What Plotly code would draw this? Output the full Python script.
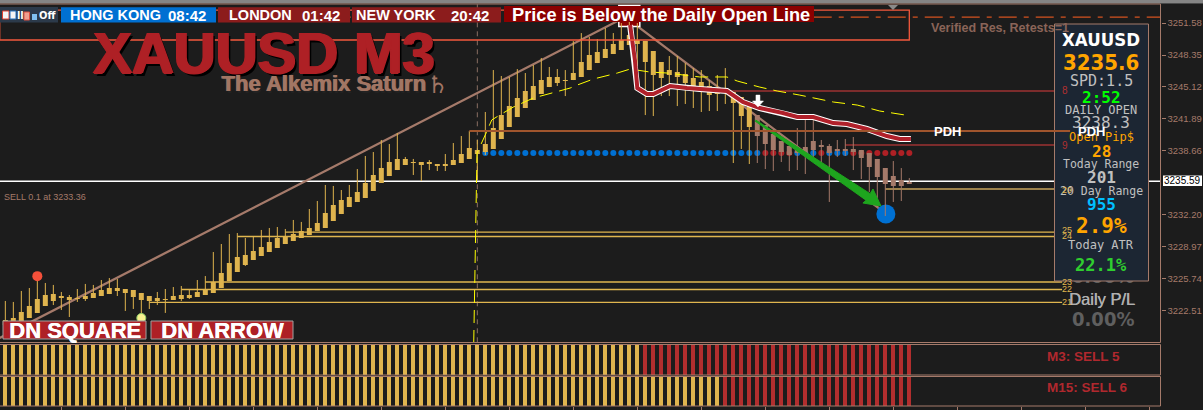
import plotly.graph_objects as go

# ---- data ----
bar_index = list(range(114))
highs = [3223.48,3223.38,3224.49,3224.79,3225.90,3225.30,3225.10,3224.39,3224.08,3224.69,3225.20,3225.10,3225.60,3225.80,3225.70,3224.69,3224.59,3224.29,3223.98,3224.39,3224.69,3224.89,3224.99,3224.69,3225.60,3226.00,3228.43,3229.24,3230.25,3230.35,3229.85,3229.95,3230.66,3230.86,3230.96,3230.76,3231.67,3231.47,3232.78,3233.59,3235.21,3235.11,3234.70,3235.21,3236.82,3238.14,3238.54,3239.76,3239.35,3240.46,3238.04,3237.84,3237.53,3237.73,3237.33,3238.34,3239.45,3240.16,3240.67,3239.76,3242.59,3246.83,3246.23,3246.13,3246.93,3246.53,3247.34,3248.05,3247.14,3246.93,3246.83,3249.76,3250.57,3250.17,3249.97,3251.08,3250.57,3251.58,3251.89,3251.58,3249.76,3248.75,3247.64,3248.25,3248.25,3247.54,3247.03,3246.83,3245.82,3246.33,3247.03,3244.61,3244.10,3243.19,3242.28,3241.27,3240.36,3239.65,3239.15,3240.97,3242.18,3242.38,3239.76,3239.35,3239.76,3239.86,3240.06,3238.75,3238.44,3237.84,3236.92,3237.63,3236.92,3235.91]
body_tops = [3221.56,3221.76,3222.37,3222.97,3223.68,3224.08,3224.18,3223.98,3223.88,3223.78,3223.98,3224.29,3224.59,3224.79,3224.79,3224.69,3224.59,3224.29,3223.98,3223.78,3223.68,3223.98,3224.08,3224.08,3224.39,3224.69,3225.40,3226.31,3227.32,3227.93,3228.13,3228.53,3228.94,3229.44,3229.85,3230.05,3230.25,3230.55,3230.86,3231.36,3232.37,3233.18,3233.69,3233.99,3234.50,3235.41,3236.22,3236.92,3237.53,3237.84,3237.84,3237.53,3237.53,3237.53,3237.33,3237.33,3237.73,3238.34,3238.95,3238.75,3239.35,3240.97,3242.28,3243.19,3244.00,3244.71,3245.22,3245.82,3246.13,3246.13,3245.82,3246.53,3247.64,3248.35,3248.65,3248.96,3249.46,3249.87,3250.37,3249.87,3249.76,3248.75,3247.64,3246.83,3246.63,3246.43,3246.02,3245.62,3245.22,3244.81,3245.01,3244.61,3244.10,3243.19,3242.28,3241.27,3240.36,3239.65,3239.15,3238.75,3239.05,3239.65,3239.25,3239.15,3238.85,3238.85,3238.85,3238.75,3238.44,3237.84,3236.92,3236.12,3235.71,3235.51]
body_bottoms = [3221.05,3221.25,3221.35,3221.76,3222.27,3222.97,3223.48,3223.78,3223.58,3223.68,3223.68,3223.78,3223.98,3224.18,3224.49,3224.29,3223.88,3223.58,3223.48,3223.48,3223.58,3223.58,3223.68,3223.78,3223.88,3224.08,3224.29,3224.79,3225.50,3226.41,3227.12,3227.62,3228.03,3228.43,3228.84,3229.24,3229.54,3229.85,3230.15,3230.55,3230.86,3231.57,3232.27,3232.98,3233.49,3233.89,3234.60,3235.41,3236.12,3236.72,3237.23,3237.43,3237.23,3237.33,3237.13,3237.13,3237.23,3237.43,3237.84,3238.34,3238.54,3238.85,3239.86,3241.07,3242.08,3242.99,3243.80,3244.41,3245.11,3245.52,3245.72,3245.82,3246.13,3246.83,3247.54,3248.05,3248.45,3248.86,3249.36,3249.46,3247.64,3246.33,3246.02,3246.33,3246.13,3245.52,3245.01,3244.71,3244.30,3244.41,3244.51,3243.50,3242.18,3241.07,3240.16,3239.35,3238.75,3238.54,3238.24,3238.44,3238.34,3238.75,3239.05,3238.44,3238.64,3238.64,3238.54,3237.94,3237.03,3236.02,3235.31,3235.11,3235.11,3235.31]
lows = [3220.75,3220.75,3220.95,3221.76,3222.27,3222.97,3223.07,3222.57,3221.86,3223.38,3223.48,3223.78,3223.98,3224.18,3223.98,3222.47,3222.67,3221.56,3222.67,3223.07,3222.27,3223.58,3223.48,3223.68,3223.88,3224.08,3224.29,3224.79,3225.50,3226.41,3227.02,3227.62,3228.03,3228.43,3228.84,3229.24,3229.54,3229.85,3230.15,3230.55,3230.86,3231.57,3232.27,3232.98,3233.49,3233.89,3234.60,3235.41,3236.12,3236.72,3237.23,3236.22,3235.61,3236.72,3236.62,3236.62,3237.23,3237.43,3237.84,3235.71,3238.24,3238.85,3239.86,3241.07,3242.08,3242.99,3243.80,3244.41,3245.11,3245.22,3244.20,3245.82,3246.13,3246.83,3247.54,3248.05,3248.45,3248.86,3249.36,3247.24,3242.28,3242.18,3244.20,3244.20,3243.19,3243.40,3242.99,3242.59,3242.69,3242.69,3243.40,3237.43,3238.85,3237.33,3237.43,3236.82,3236.62,3237.53,3236.62,3236.72,3236.32,3238.04,3237.13,3233.49,3238.04,3238.14,3236.72,3235.81,3234.50,3233.69,3232.07,3233.49,3233.59,3235.31]
last_gold_bar = 93

trend_x = [-0.7, 77.5, 109.5]
trend_y = [3219.74, 3252.19, 3232.68]

ma_x = [78.1,78.7,79,80.2,81,83.1,85.2,86.8,90.2,92.2,94.3,97.2,99,101,103.5,105.2,107.7,110.2,111.8,113.2]
ma_y = [3251.38,3247.84,3245.01,3244.41,3244.41,3245.22,3245.01,3244.91,3244.71,3243.60,3242.99,3242.49,3242.08,3242.08,3241.47,3241.37,3240.87,3240.16,3239.86,3239.86]

yellow_x = [58.55,58.96,60.1,60.8,61.8,63.5,66,68.5,70.6,71.5,73.5,76.5,78.1,80.6,82.7,86.8,90.2,91.5,94.3,96.5,99.3,103.5,106.5,109.3,112.5]
yellow_y = [3219.23,3238.44,3240.46,3241.78,3242.28,3243.09,3244.00,3244.51,3245.01,3245.32,3245.92,3246.53,3246.93,3246.63,3246.53,3246.13,3246.13,3245.72,3245.11,3244.71,3244.30,3243.60,3243.29,3242.69,3242.28]

dot_x = list(range(60, 114))
dot_level = 3238.44
dot_sell_bars = [95,96,97,98,102,106,107,108,109,110,111,112,113]

last_price = 3235.59
zone_start, zone_end = -0.7, 113
zone_top, zone_bottom = 3252.90, 3249.87
dash_level = 3252.19
pdh_level, pdh_start, pdh_end = 3240.67, 58, 133.1
level_end = 132.1
levels = [("8",3244.71,90,"#9c3232"),("9",3239.25,105,"#9c3232"),("20",3234.80,110,"#c9a45c"),
          ("25",3230.45,35,"#e0b64f"),("24",3230.00,29,"#e0b64f"),("23",3225.40,25,"#e0b64f"),
          ("22",3224.64,22,"#e0b64f"),("21",3223.33,18,"#e0b64f")]
separator_x = 59
arrow_poly_x = [93.8,108.1,108.46,109.46,107.2,107.6,93.7]
arrow_poly_y = [3241.78,3234.33,3234.80,3233.08,3233.39,3233.66,3241.68]
entry_arrow_x = [94.08,93.4,93.83,93.83,94.33,94.33,94.77,94.08]
entry_arrow_y = [3243.09,3243.70,3243.70,3244.30,3244.30,3243.70,3243.70,3243.09]
sell_price_tick = [3251.58,3248.35,3245.12,3241.89,3238.66,3232.20,3228.97,3225.74,3222.51]
tick_labels = ["3251.58","3248.35","3245.12","3241.89","3238.66","3232.20","3228.97","3225.74","3222.51"]
x_ticks = list(range(7, 145, 8))
m3_state = ["BUY"]*80 + ["SELL"]*34
m15_state = ["BUY"]*90 + ["SELL"]*24

# ---- styling ----
BG="#1c1c1c"; GOLD="#dfb44e"; BROWN="#a57a6a"; RED="#ae2025"; BLUE="#0070d2"
W,H=1203,410
PLOT_R=1160.5
ARIAL="Liberation Sans"; MONO="DejaVu Sans Mono"; NARROW="DejaVu Sans Condensed, Liberation Sans"
def px(x): return x/W
def py(y): return 1-y/H

fig = go.Figure()
def line(x,y,color,width=1,dash=None):
    fig.add_trace(go.Scatter(x=x,y=y,mode="lines",line=dict(color=color,width=width,dash=dash),hoverinfo="skip"))

def segments(idx,a,b):
    xs,ys=[],[]
    for i in idx:
        xs+=[bar_index[i],bar_index[i],None]
        ys+=[a[i],b[i],None]
    return xs,ys

line([separator_x,separator_x],[3219.3,3253.5],"#8a6f62",1,"5px,4px")
for _,val,start,col in levels:
    line([start,level_end],[val,val],col,1.3)
line([-0.7,144.4],[last_price,last_price],"#ffffff",1.5)
line([zone_start,144.4],[dash_level,dash_level],"#d4521f",1.2,"18px,7px,5px,7px")
line(trend_x,trend_y,BROWN,2.3)
fig.add_trace(go.Scatter(x=dot_x,y=[dot_level]*len(dot_x),mode="markers",hoverinfo="skip",
    marker=dict(size=6,color=[RED if b in dot_sell_bars else BLUE for b in dot_x])))
fig.add_trace(go.Scatter(x=[110.07],y=[3232.27],mode="markers",marker=dict(size=19,color=BLUE),hoverinfo="skip"))
fig.add_trace(go.Scatter(x=[78],y=[3252.29],mode="markers",hoverinfo="skip",
    marker=dict(size=21,symbol="square",color="#8b0000",line=dict(color="#ffffff",width=1.5))))
# candles: wicks and bodies
gold_bars=[i for i in bar_index if i<=last_gold_bar]
brown_bars=[i for i in bar_index if i>last_gold_bar]
for bars,col in ((gold_bars,GOLD),(brown_bars,BROWN)):
    wx,wy=segments(bars,lows,highs)
    line(wx,wy,col,1)
    bx,by=segments(bars,body_bottoms,body_tops)
    line(bx,by,col,5)
fig.add_trace(go.Scatter(x=[4],y=[3225.99],mode="markers",marker=dict(size=10,color="#f4503a"),hoverinfo="skip"))
fig.add_trace(go.Scatter(x=[17],y=[3221.76],mode="markers",marker=dict(size=9,color="#f7ef8e",line=dict(color="#8fd06a",width=1)),hoverinfo="skip"))
line(yellow_x,yellow_y,"#ffff00",1,"13px,7px")
line(ma_x,ma_y,"#ffffff",6)
line(ma_x,ma_y,"#b0202a",4)
fig.add_trace(go.Scatter(x=arrow_poly_x,y=arrow_poly_y,mode="lines",fill="toself",fillcolor="#1ea51e",line=dict(color="#1ea51e",width=1),hoverinfo="skip"))
fig.add_trace(go.Scatter(x=entry_arrow_x,y=entry_arrow_y,mode="lines",fill="toself",fillcolor="#ffffff",line=dict(color="#ffffff",width=0.5),hoverinfo="skip"))
fig.add_trace(go.Scatter(x=[137.2],y=[3225.80],mode="text",text=["<b>0.00%</b>"],cliponaxis=False,hoverinfo="skip",
    textfont=dict(family=NARROW,size=20,color="#5f5f5f")))

def strip(states,axis):
    fig.add_trace(go.Bar(x=bar_index,y=[1]*len(states),width=0.5,yaxis=axis,hoverinfo="skip",
        marker=dict(color=[GOLD if s=="BUY" else "#b22e2e" for s in states],line=dict(width=0))))
strip(m3_state,"y2")
strip(m15_state,"y3")

shapes=[]
def box(x0,y0,x1,y1,fill=None,line_col=None,lw=1):
    shapes.append(dict(type="rect",xref="paper",yref="paper",x0=px(x0),x1=px(x1),y0=py(y0),y1=py(y1),layer="above",
        fillcolor=fill if fill else "rgba(0,0,0,0)",line=dict(color=line_col,width=lw) if line_col else dict(width=0)))
box(0,0,W,3,"#858585")
box(0,3,W,4,"#4a4a4a")
shapes.append(dict(type="rect",xref="x",yref="y",x0=zone_start,x1=zone_end,y0=zone_bottom,y1=zone_top,layer="above",
    fillcolor="rgba(0,0,0,0)",line=dict(color="#f4583c",width=1.3)))
box(-2,4,PLOT_R,342.5,None,BROWN,1)
box(-2,344.5,PLOT_R,375,None,BROWN,1)
box(-2,376.5,PLOT_R,406,None,BROWN,1)
shapes.append(dict(type="path",xref="paper",yref="paper",layer="above",fillcolor="#8a8a8a",line=dict(width=0),
    path=f"M{px(888)},{py(5)} L{px(898)},{py(5)} L{px(893)},{py(10)} Z"))
box(1054.5,24,1148.5,281,"#1c2633",BROWN,1)
shapes.append(dict(type="line",xref="x",yref="y",x0=pdh_start,x1=pdh_end,y0=pdh_level,y1=pdh_level,layer="above",
    line=dict(color="#a0552d",width=2)))
box(0,7,58,22.5,"#2c3a4a")
box(2.5,11,9,19,"#f4f4f4","#e04030",1)
box(10,11,16,19,"#f4f4f4","#2070c0",1)
box(24,12,29.5,20,"#f0a090","#e05040",1)
box(32,14,37,20,"#80c0f0")
box(61,7.3,216,22.5,"#0070d2")
box(218,7.3,350,22.5,"#8c1c1c")
box(352,7.3,501,22.5,"#8c1c1c")
box(504,6,814,22,"#8b0000")
box(3,321,146,339,RED,"#a0a0a0",1)
box(151,321,293,339,RED,"#a0a0a0",1)

anns=[]
def text(t,x,y,size,color,family=ARIAL,bold=False,anchor="center",shadow=None):
    font=dict(family=family,size=size,color=color)
    if shadow: font["shadow"]=shadow
    anns.append(dict(text=f"<b>{t}</b>" if bold else t,x=px(x),y=py(y),xref="paper",yref="paper",xanchor=anchor,yanchor="middle",
        showarrow=False,font=font,align=anchor if anchor!="center" else "center",borderpad=0))

WHITE_HEAVY="0.5px 0 0 #fff"
text("Off",47,15,11,"#ffffff",NARROW,True)
text("II",20,15,10,"#ffffff",NARROW,True)
text("HONG KONG",69,15,14.5,"#fff",ARIAL,True,"left")
text("08:42",167,15,15,"#fff",ARIAL,True,"left")
text("LONDON",228,15,14.5,"#fff",ARIAL,True,"left")
text("01:42",301,15,15,"#fff",ARIAL,True,"left")
text("NEW YORK",355,15,14.5,"#fff",ARIAL,True,"left")
text("20:42",450,15,15,"#fff",ARIAL,True,"left")
text("Price is Below the Daily Open Line",511,15,18.2,"#fff",ARIAL,True,"left")
text("XAUUSD M3",92,52,58,RED,ARIAL,True,"left","1.5px 0 0 #ae2025, -1px 0 0 #ae2025, 0 1px 0 #ae2025, 3px 3px 0 #000")
text("The Alkemix Saturn",220,84,22,"#a27664",ARIAL,True,"left","1px 0 0 #a27664, 2px 2px 0 #222")
text("\u2644",438,85,24,"#a27664","DejaVu Sans")
text("SELL 0.1 at 3233.36",3,197,9,BROWN,"Liberation Sans",False,"left")
text("Verified Res, Retests=1",930,28,12.5,"#8a6458",ARIAL,True,"left")
text("DN SQUARE",74.5,330,22,"#fff",ARIAL,True,"center",WHITE_HEAVY)
text("DN ARROW",222,330,22,"#fff",ARIAL,True,"center",WHITE_HEAVY)
text("PDH",947.5,131,13,"#fff",ARIAL,True)
text("M3: SELL 5",1045.5,356,13.5,"#b0282e",ARIAL,True,"left")
text("M15: SELL 6",1045.5,387.5,13.5,"#b0282e",ARIAL,True,"left")
cx=1101
text("XAUUSD",cx,39.5,18.5,"#fff",NARROW,True)
text("3235.6",cx,62,22,"#ffa500",NARROW,True)
text("SPD:1.5",cx,81,15,"#c0c0c0",MONO)
text("2:52",cx,97,16,"#00ff00",MONO,True)
text("DAILY OPEN",cx,110,12,"#c0c0c0",MONO)
text("3238.3",cx,122,16,"#c0c0c0",MONO)
text("Open Pip$",cx,137,12,"#ffa500",MONO)
text("PDH",1091,131,13,"#fff",ARIAL,True)
text("28",cx,151,16,"#ffa500",MONO,True)
text("Today Range",cx,164,11.5,"#c0c0c0",MONO)
text("201",cx,178,16,"#c0c0c0",MONO,True)
text("20 Day Range",cx,191,11.5,"#c0c0c0",MONO)
text("955",cx,204,16,"#00bfff",MONO,True)
text("2.9%",cx,226,21,"#ffa500",MONO,True)
text("Today ATR",cx,245,12,"#c0c0c0",MONO)
text("22.1%",cx,265,17,"#2fce2f",MONO,True)
text("Daily P/L",1102,299,16.5,"#b0b0b0",ARIAL,False,"center","0.4px 0 0 #b0b0b0")
text("0.00%",1103,319,20,"#5f5f5f",NARROW,True)
text("8",1065,91,10,"#b03030","Liberation Sans",False)
text("9",1065,145,10,"#b03030","Liberation Sans",False)
text("20",1067,190,9,"#e0b64f")
text("25",1067,230,9,"#e0b64f")
text("24",1067,236,9,"#e0b64f")
text("23",1067,282,9,"#e0b64f")
text("22",1067,289,9,"#e0b64f")
text("21",1067,302,9,"#e0b64f")
shapes.append(dict(type="rect",xref="paper",yref="paper",x0=px(1163),x1=px(1202),y0=py(175.5),y1=py(186),layer="above",fillcolor="#ffffff",line=dict(width=0)))
text("3235.59",1182.5,181,10,"#000000")

fig.update_layout(
    width=W,height=H,margin=dict(l=0,r=0,t=0,b=0,pad=0),showlegend=False,autosize=False,
    paper_bgcolor=BG,plot_bgcolor=BG,bargap=0,shapes=shapes,annotations=anns,
    xaxis=dict(domain=[0,PLOT_R/W],range=[-0.666,144.4],anchor="y3",showgrid=False,
        zeroline=False,showline=False,tickmode="array",tickvals=x_ticks,ticks="outside",ticklen=4,tickcolor=BROWN,showticklabels=False),
    yaxis=dict(domain=[py(342.5),py(4)],range=[3219.28,3253.51],anchor="x",side="right",showgrid=False,zeroline=False,
        tickmode="array",tickvals=sell_price_tick,ticktext=tick_labels,ticks="outside",ticklen=4,tickcolor=BROWN,
        tickfont=dict(family="Liberation Sans",size=9.5,color=BROWN)),
    yaxis2=dict(domain=[py(375),py(344.5)],range=[0,1],anchor="x",showgrid=False,zeroline=False,showticklabels=False,ticks=""),
    yaxis3=dict(domain=[py(406),py(376.5)],range=[0,1],anchor="x",showgrid=False,zeroline=False,showticklabels=False,ticks=""),
)
fig.write_html("out.html",config=dict(displayModeBar=False),post_script="document.body.style.margin='0';document.body.style.overflow='hidden';")
